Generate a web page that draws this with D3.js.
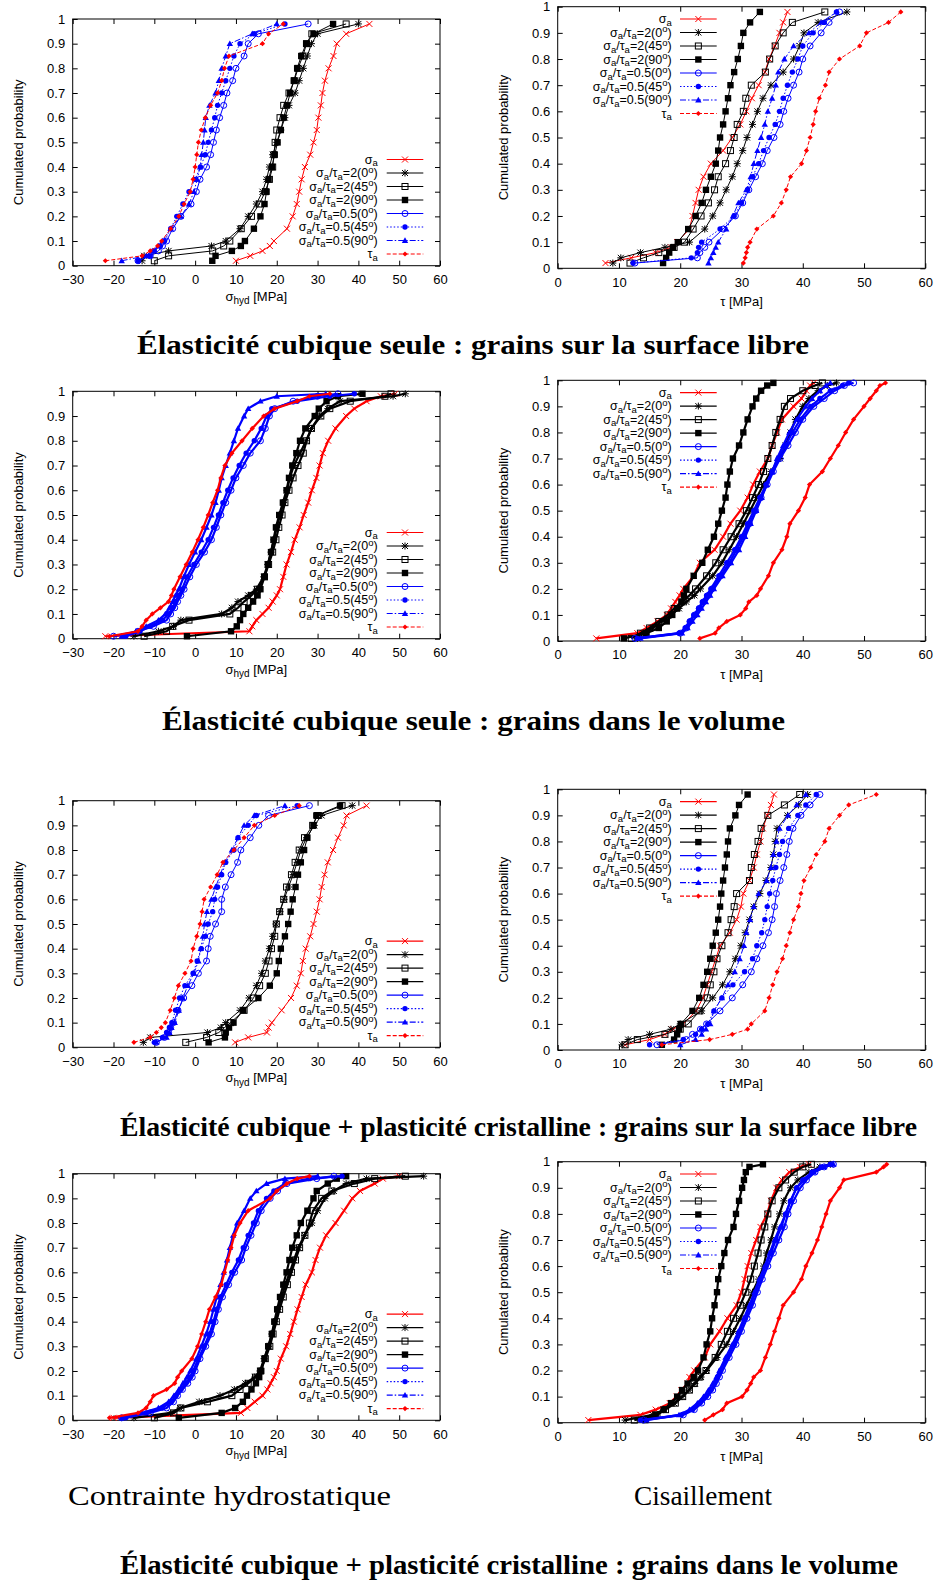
<!DOCTYPE html>
<html><head><meta charset="utf-8">
<script src="https://cdn.jsdelivr.net/npm/d3@7"></script>
<style>body{margin:0;background:#fff}</style>
</head><body>
<svg id="c" width="935" height="1591"></svg>
<script>
// ---------- DATA ----------
const probSurface = [0.02,0.04,0.06,0.08,0.1,0.15,0.2,0.25,0.3,0.35,0.4,0.45,0.5,0.55,0.6,0.65,0.7,0.75,0.8,0.85,0.9,0.94,0.98];
const probVolume = [0.01,0.03,0.05,0.075,0.1,0.125,0.15,0.175,0.2,0.25,0.3,0.35,0.4,0.45,0.5,0.55,0.6,0.65,0.7,0.75,0.8,0.85,0.9,0.93,0.96,0.98,0.99];
const xTicksHyd = [-30,-20,-10,0,10,20,30,40,50,60];
const xTicksTau = [0,10,20,30,40,50,60];
const yTicks = [0,0.1,0.2,0.3,0.4,0.5,0.6,0.7,0.8,0.9,1];
const yTickLabels = ["0","0.1","0.2","0.3","0.4","0.5","0.6","0.7","0.8","0.9","1"];
// series order: σa, σa/τa=2(0°), 2(45°), 2(90°), 0.5(0°), 0.5(45°), 0.5(90°), τa
const seriesKeys = ["sigA","r2_0","r2_45","r2_90","r05_0","r05_45","r05_90","tauA"];

// Élasticité cubique seule : surface libre — hydrostatic
const hydSurfElas = [
 [10,13.5,16.5,18.3,19.3,22.5,23.9,24.9,25.5,26.1,26.9,28.2,29,29.8,30.2,30.8,31.2,31.8,32.7,33.9,34.7,37,42.7],
 [-13,-12.5,-6.5,4,7.5,11,13,15,16.5,17.5,18.2,19,20,21,22,23,24.5,25.5,26.5,27.5,28.5,30,40],
 [-10,-6.5,4.3,7,8.5,11.3,13.8,15.7,17.2,18.2,19,19.3,19.6,20,20.8,21.7,23,24.3,25.2,26.4,27.3,28.6,37],
 [4.2,5,9,11.2,12.2,14.4,16,17,17.5,18,18.8,19.5,20.2,21,21.7,22.5,23.3,24.2,25,26,27.2,29,33.8],
 [-14,-11,-9,-8,-7,-5.5,-3.5,-1,0.3,1.2,2.8,3.8,4.5,5.2,6,7,7.8,9.2,10,12,13,15.5,27.7],
 [-14,-11,-10,-8.5,-7.5,-6,-4.5,-3,-1.5,0,1.3,2.5,3.2,4,4.8,5.5,6.5,7.5,8.5,9.5,11,14.5,22],
 [-18,-12,-10.5,-9,-8,-6,-3.5,-1.5,-0.3,0.5,1.2,1.6,2,2.3,2.6,3.5,5,5.8,6.5,7.5,8.5,14,20],
 [-22,-13,-11,-9.2,-8.2,-6,-4,-2.7,-1.2,-0.5,0,0.4,0.8,1.5,2.5,3.8,5.5,6.5,7.2,8.3,16.5,18,21.6]
];
// Élasticité cubique seule : surface libre — shear
const tauSurfElas = [
 [7.8,12,16,18.5,19.5,21.5,22,22.5,23,23.8,25,27,28.5,29.8,30.8,31.7,32.8,33.8,34.5,35.4,36.2,36.8,37.5],
 [9,10.3,13.5,17.5,21.5,24,25.3,26.5,27.5,28.5,29.3,30.2,30.9,31.8,32.6,33.5,34.8,36.8,38.5,39.5,40.2,42.5,47.2],
 [11.8,14,16.5,19,20.7,22.1,23.4,24.6,25.6,26.2,27.4,28.2,28.8,29.3,30.3,30.7,31.6,33.9,34.6,35.5,36.8,38.3,43.6],
 [17.2,17.7,18.2,18.8,19.6,21.3,22.5,23.5,24.2,25,25.8,26.2,26.5,27,27.4,27.8,28.2,28.8,29.4,29.9,30.3,31.4,33],
 [12.6,22.8,23.2,24,24.7,27,29,30.2,31.2,32.3,33.4,34.2,35.3,36.3,36.9,37.6,38.5,39.4,40,41.2,43,44.3,46],
 [12.3,21.8,22.8,23,23.5,26.5,28.8,30,31,31.8,32.8,33.6,34.5,35.5,36.2,36.8,37.5,38.3,39.2,40,41.7,43.5,45.5],
 [24.6,25,25.4,25.8,26.2,27.5,28.6,29.5,30.8,31.5,32,32.6,33.2,33.8,34.3,35,35.6,36,37,38.5,41,43,45.5],
 [30.3,30.6,30.8,31,31.4,32.5,35.2,36.5,37.3,38,39.8,40.6,41.2,41.7,42.1,42.7,43.7,44.3,46,49.3,50.4,54,56]
];
// Élasticité cubique seule : volume — hydrostatic
const hydVolElas = [
 [-22,13.3,14,15,16.5,18,19,20,20.8,21.6,22.4,23.5,24.4,25.6,26.6,27.7,28.6,29.7,30.5,31.3,32.6,34.4,37,39,42,45.5,49],
 [-15,-9,-5.3,-3.5,6.5,9,10.5,13,15,16.8,17.8,18.6,19.3,20,20.8,21.7,22.5,23.2,24.2,25.7,27.2,28.5,30.5,32.5,35.5,48.5,51.5],
 [-12.5,-7,-5.5,-1.5,8.5,10.5,12,13.8,15.3,17,18,19,19.8,20.5,21.3,22,23,24,25.2,26.5,27.3,28.5,30.8,33,38,46.5,48],
 [-2,8.8,10.2,11,11.8,13,14.2,15.3,16,17,17.8,18.6,19.2,19.8,20.6,21.5,22.4,23,23.8,24.8,25.7,27,29.3,30.3,32.2,35,41],
 [-20,-14,-10.2,-7,-6,-5,-4.3,-3.5,-2.7,-1.3,0.3,2.3,4,5.2,6.3,7.5,8.8,10,11.8,13.5,16,17.2,18.2,19.5,24,30,35],
 [-17,-13.5,-11,-8,-6.5,-5.5,-4.8,-4,-3.2,-2,-0.3,1.5,3.2,4.5,5.7,6.8,8,9.3,10.8,12.5,14.5,16.2,17.5,18.8,25,33,39],
 [-18,-14.5,-12,-9,-7.3,-6.3,-5.5,-4.8,-4,-2.8,-1.5,0,1.5,2.8,4,5,5.8,6.5,7.5,8.5,9.5,10.5,12,13,16,20,32],
 [-21,-14,-13,-12,-10.5,-8.5,-6.5,-5.8,-5.2,-3.7,-2.2,-0.7,0.7,2,3.2,4.3,5.5,6.3,7.3,9,11.5,14,16.8,19.5,25,28,33]
];
// Élasticité cubique seule : volume — shear
const tauVolElas = [
 [6.3,13,14.5,16.3,17.8,18.5,19.2,19.9,20.5,22.2,23.2,25.6,27,28.2,29.8,31,31.9,33,34.3,35,35.8,36.6,38.5,39.8,40.6,41.2,41.8],
 [13,14,15.5,17,18.5,19.8,21,22.3,23.3,25.3,26.8,28,29.2,30.3,31.4,32.5,33.6,34.8,36.3,37.2,38,38.8,40,41,42.5,44,45.5],
 [12,13.5,15,16.5,18,19,20.3,21.5,22.5,24.3,25.8,27,28.3,29.6,30.8,31.8,32.8,33.6,34.3,35,35.6,36.3,37,38,40,42,43.2],
 [10.8,14.5,16.5,17.8,18.7,19.5,20.2,20.6,21,22.2,23.6,24.5,25.5,26.2,26.8,27.4,27.7,28.1,28.6,29.6,30.3,31,31.8,32.4,33.2,34.2,35.2],
 [12.6,20,21,21.6,22.4,23.1,23.8,24.6,25.2,26.6,28,29.2,30.3,31.3,32.3,33.2,34.2,35.2,36.3,37.6,38.8,40,41.8,43.5,45.2,46.8,48.3],
 [13,19.8,20.8,21.5,22.2,23,23.6,24.3,25,26.3,27.6,28.9,30,31,32,33,34,35,36,37.2,38.3,39.6,41.3,42.8,44.5,46.5,47.5],
 [13.5,20.3,21.2,22,22.8,23.5,24.2,24.9,25.5,26.9,28.3,29.6,30.6,31.5,32.4,33.3,34.1,35,35.8,36.8,37.8,39,40.5,41.5,42.8,43.8,44.5],
 [23.2,25.7,26.3,27.6,29.8,30.7,31.2,32.5,33.1,34.4,35.2,36.6,37.4,37.9,39.3,40.4,41.1,43.2,44.5,45.8,47,48.3,50,51,52,52.6,53.5]
];
// Élasticité + plasticité : surface libre — hydrostatic
const hydSurfPlas = [
 [9.8,13,17.6,18,18.8,21.2,23.5,24.9,25.9,26.4,27.1,28.2,29,29.8,30.5,31,31.7,32.5,33.8,35,36.4,37.1,42],
 [-12.7,-11,3,6.3,7.5,11,13.2,15,16.3,17.2,18.2,19,19.8,20.8,21.8,22.9,24,25,25.9,27.3,29.2,31,38.5],
 [-2.3,2.8,5.8,7.2,8.7,12,14.3,15.8,17.2,18.1,18.7,19.5,19.9,20.7,21.7,22.4,23.6,24.5,25.5,26.8,28.8,30,36],
 [3.3,7.3,7.5,8.3,9.4,11.8,15.5,18.3,20,20.5,21,22,22.8,23.4,23.9,24.6,25.2,25.9,26.7,27.5,29,29.7,35.5],
 [-9.5,-7.5,-6.5,-6,-5.3,-4.2,-2.8,-0.8,0.8,2.8,3.2,3.7,5,6.5,6.5,7.4,8.8,10.4,11.2,13.5,15.6,18,28],
 [-10,-8,-7,-6.3,-5.7,-4.8,-3.8,-2.5,-0.5,0.5,1.5,2.5,3.2,4.3,4.8,5.5,6.5,7.5,9.5,10.5,13,15,25],
 [-9.5,-7,-6.3,-5.8,-5,-4,-3,-1.8,-0.3,0.8,1.4,1.9,2.3,2.9,4,5,6.2,7.2,9,10.5,12,14.5,22],
 [-15,-11,-9.5,-8.3,-7.3,-6.1,-5.1,-4.1,-2.5,-1,-0.5,0.4,1.2,1.7,2.2,3.8,5.4,6.8,9.5,12,14.5,19.5,25.5]
];
// Élasticité + plasticité : surface libre — shear
const tauSurfPlas = [
 [11,15,17.5,18.8,20.5,22.6,23.7,24.4,25.1,25.8,26.5,28.1,29.2,29.9,30.3,31.3,32,32.5,33.1,33.5,34.2,34.8,35.3],
 [10.5,11.5,15,18.5,20,23.5,25.3,26.9,28.1,29,29.9,30.6,31.3,32,33,34,34.8,35.2,35.5,35.8,37.5,39.3,40.8],
 [11,13,17.5,20,21.3,23.2,24.4,24.9,25.5,26,26.8,27.8,28.3,28.8,29.2,31.3,31.6,32.1,32.7,33.2,34.3,37,39.5],
 [17,19,19.5,19.8,20.1,22,23.1,23.8,24.4,24.9,25.3,25.8,26.2,26.5,26.7,27,27.3,27.6,27.8,28.1,29,29.6,31],
 [16.2,21,22,23.3,24.3,26.5,28.5,30.2,31.6,32.5,33.5,34.4,35,35.4,35.7,36.3,36.9,37.4,37.8,38.4,39.7,41.2,42.8],
 [15,20.5,22.5,23.5,24.5,25.5,26.8,28.6,30.5,31.8,32.5,33.3,33.8,34.2,34.6,35.1,35.6,36.2,36.7,37.7,39.2,40.5,42.2],
 [20,22.5,23.5,24.2,24.9,25.5,26.8,27.8,28.9,29.7,30.4,30.8,31.4,32,32.8,34.1,34.8,35.2,35.7,36.2,37.6,39,40.5],
 [17,24.8,28.5,31,31.6,33.8,34.5,35.1,35.8,36.7,37.3,37.9,38.5,39.3,39.7,40.2,41.3,42.2,43.6,44.3,46,47.5,52]
];
// Élasticité + plasticité : volume — hydrostatic
const hydVolPlas = [
 [-20,11.2,12.8,14.6,16.5,17.7,18.5,19.3,20,21,22.3,23.3,24.2,25.1,26.1,27.1,28.6,29.5,30.6,32.1,34.4,36.5,38.5,40.4,44,46,50],
 [-15,-6,-3.7,1,6.1,9.6,12.3,14.6,15.9,16.9,18,18.8,19.6,20.3,21.2,22.1,23.2,24.2,25.3,26.8,28.6,30,31.8,34,37,42,56],
 [-10,-5.2,-3.5,3,9,11,13,14.8,16,17.2,18.3,19.1,19.9,20.7,21.6,22.6,23.6,24.6,25.6,26.9,28,28.9,31,33.5,39,44,51.5],
 [-4,6.5,9.8,11.7,12.7,13.8,14.9,15.7,16.2,17,17.9,18.8,19.4,20.1,20.8,21.6,22.4,23.1,23.8,24.9,25.9,27.5,29,29.8,32.5,34.7,37],
 [-18,-11,-7,-5.3,-4.3,-3.1,-1.8,-0.7,0,1.2,2.6,4,4.9,5.7,6.7,8.2,9.7,11.4,12.4,13.7,15,16.2,18.4,20.2,22.5,29.8,34],
 [-17,-12,-8,-5.8,-4.7,-3.5,-2.3,-1.2,-0.5,0.8,2.2,3.5,4.5,5.3,6.2,7.6,9,10.6,11.8,13,14.3,15.5,17.5,19.3,22,28,36],
 [-18,-13,-9,-6.5,-5.2,-4,-3,-2,-1.2,0.3,1.5,2.7,3.7,4.5,5.3,6.2,7,7.8,8.5,9.3,10.3,12,13.5,15,17.5,22,30],
 [-21,-14,-12,-11,-10.2,-7,-5,-4.3,-3.3,-0.8,0.6,1.6,2.6,3.5,5,6.4,7.2,8,8.8,9.6,11,13,18.4,20,22.5,25,28]
];
// Élasticité + plasticité : volume — shear
const tauVolPlas = [
 [5,13.5,16,18.3,19.4,20.2,21.2,21.5,22.3,24,24.9,26.4,27.7,29.2,30,30.5,31,31.6,32.4,33.1,34.2,34.8,35.7,36.6,37.8,39.6,41],
 [11,15.5,17.3,19,20.3,21.4,22.4,23.4,24.3,26,27.6,28.7,29.8,30.8,31.8,32.8,33.6,34.1,34.8,35.4,36.2,36.9,38,39.2,41,42.8,44.5],
 [12.5,16.2,17.6,19.2,20.4,21.5,22.3,23.2,24.2,25.7,26.7,27.7,28.7,29.8,30.7,31.5,32.1,32.7,33.2,33.8,34.3,35,36.1,37.2,38.6,40,41.4],
 [14.3,16,17.3,18.5,19.5,20.3,21.2,22.2,22.9,23.8,24.3,24.9,25.2,25.6,26,26.2,26.7,27.2,27.8,28.7,29.1,29.6,30.1,30.4,30.7,31.3,33.5],
 [14,20.5,22.3,23.5,24.5,25.3,25.9,26.4,26.9,28,29.1,30,30.9,31.8,32.6,33.4,34.3,35.2,36.1,37,37.6,38.5,39.6,40.6,42,43.5,45],
 [13.5,20.2,22,23.2,24.2,25,25.6,26.1,26.6,27.7,28.8,29.7,30.6,31.5,32.3,33.1,34,34.8,35.6,36.5,37.2,38,39,40,41.5,43,44.5],
 [14.5,19.8,21.5,22.8,23.8,24.6,25.3,25.9,26.4,27.4,28.5,29.5,30.4,31.3,32.1,32.9,33.8,34.6,35.4,36.3,37.2,38,39,40.2,41.8,43.5,45],
 [24,25.4,26.9,27.6,30.1,30.9,31.5,32,33.1,33.9,34.7,35.4,36.1,36.8,38.5,39.8,40.5,41.5,42.4,43.1,43.8,44.5,46,46.7,52,53.2,53.7]
];

const legendLabels = [
 [["σ"],["a","sub"]],
 [["σ"],["a","sub"],["/τ"],["a","sub"],["=2(0"],["o","sup"],[")"]],
 [["σ"],["a","sub"],["/τ"],["a","sub"],["=2(45"],["o","sup"],[")"]],
 [["σ"],["a","sub"],["/τ"],["a","sub"],["=2(90"],["o","sup"],[")"]],
 [["σ"],["a","sub"],["/τ"],["a","sub"],["=0.5(0"],["o","sup"],[")"]],
 [["σ"],["a","sub"],["/τ"],["a","sub"],["=0.5(45"],["o","sup"],[")"]],
 [["σ"],["a","sub"],["/τ"],["a","sub"],["=0.5(90"],["o","sup"],[")"]],
 [["τ"],["a","sub"]]
];
const titles = [
 "Élasticité cubique seule : grains sur la surface libre",
 "Élasticité cubique seule : grains dans le volume",
 "Élasticité cubique + plasticité cristalline : grains sur la surface libre",
 "Élasticité cubique + plasticité cristalline : grains dans le volume"
];
const columnCaptions = ["Contrainte hydrostatique","Cisaillement"];

// ---------- STYLE / LAYOUT ----------
const styles = [
 {color:"#ff0000", dash:null, marker:"cross"},
 {color:"#000000", dash:null, marker:"star"},
 {color:"#000000", dash:null, marker:"sqOpen"},
 {color:"#000000", dash:null, marker:"sqFill"},
 {color:"#0000ff", dash:null, marker:"circOpen"},
 {color:"#0000ff", dash:"1.5,2", marker:"circFill"},
 {color:"#0000ff", dash:"6,2,1.5,2", marker:"tri"},
 {color:"#ff0000", dash:"4,2", marker:"diamond"}
];
const cols = [{left:72.7, right:440}, {left:557.7, right:925.3}];
const panels = [
 {data:hydSurfElas, probs:probSurface, kind:"hyd", col:0, top:19,    bottom:265.7, vol:false},
 {data:tauSurfElas, probs:probSurface, kind:"tau", col:1, top:6.7,   bottom:268.3, vol:false},
 {data:hydVolElas,  probs:probVolume,  kind:"hyd", col:0, top:391.3, bottom:638.7, vol:true},
 {data:tauVolElas,  probs:probVolume,  kind:"tau", col:1, top:380.3, bottom:641,   vol:true},
 {data:hydSurfPlas, probs:probSurface, kind:"hyd", col:0, top:800.7, bottom:1047.3, vol:false},
 {data:tauSurfPlas, probs:probSurface, kind:"tau", col:1, top:789.3, bottom:1050,  vol:false},
 {data:hydVolPlas,  probs:probVolume,  kind:"hyd", col:0, top:1173.7, bottom:1420.3, vol:true},
 {data:tauVolPlas,  probs:probVolume,  kind:"tau", col:1, top:1161.7, bottom:1422.7, vol:true}
];
const FONT = "'Liberation Sans', Arial, Helvetica, sans-serif";
const SERIF = "'Liberation Serif', 'DejaVu Serif', serif";
const svg = d3.select("#c");

function rich(textSel, parts, baseSize, subSize, subDy, supDy) {
  let shift = 0;
  parts.forEach(([t, type]) => {
    let target = 0, fs = baseSize;
    if (type === "sub") { target = subDy; fs = subSize; }
    else if (type === "sup") { target = supDy; fs = subSize; }
    textSel.append("tspan").attr("dy", target - shift).attr("font-size", fs).text(t);
    shift = target;
  });
}

function drawMarker(g, type, x, y, color) {
  const s = 3;
  if (type === "cross") {
    g.append("path").attr("d", `M${x-s},${y-s}L${x+s},${y+s}M${x-s},${y+s}L${x+s},${y-s}`)
      .attr("stroke", color).attr("stroke-width", 1).attr("fill", "none");
  } else if (type === "star") {
    g.append("path").attr("d", `M${x-s},${y-s}L${x+s},${y+s}M${x-s},${y+s}L${x+s},${y-s}M${x-3.5},${y}L${x+3.5},${y}M${x},${y-3.5}L${x},${y+3.5}`)
      .attr("stroke", color).attr("stroke-width", 1).attr("fill", "none");
  } else if (type === "sqOpen") {
    g.append("rect").attr("x", x-3).attr("y", y-3).attr("width", 6).attr("height", 6)
      .attr("fill", "none").attr("stroke", color).attr("stroke-width", 1);
  } else if (type === "sqFill") {
    g.append("rect").attr("x", x-3.2).attr("y", y-3.2).attr("width", 6.4).attr("height", 6.4).attr("fill", color);
  } else if (type === "circOpen") {
    g.append("circle").attr("cx", x).attr("cy", y).attr("r", 3)
      .attr("fill", "none").attr("stroke", color).attr("stroke-width", 1);
  } else if (type === "circFill") {
    g.append("circle").attr("cx", x).attr("cy", y).attr("r", 2.7).attr("fill", color);
  } else if (type === "tri") {
    g.append("path").attr("d", `M${x},${y-3.2}L${x+3.2},${y+2.4}L${x-3.2},${y+2.4}Z`).attr("fill", color);
  } else if (type === "diamond") {
    g.append("path").attr("d", `M${x},${y-2.6}L${x+2.6},${y}L${x},${y+2.6}L${x-2.6},${y}Z`).attr("fill", color);
  }
}

panels.forEach(p => {
  const c = cols[p.col];
  const xDomain = p.kind === "hyd" ? [-30, 60] : [0, 60];
  const xTicks = p.kind === "hyd" ? xTicksHyd : xTicksTau;
  const x = d3.scaleLinear().domain(xDomain).range([c.left, c.right]);
  const y = d3.scaleLinear().domain([0, 1]).range([p.bottom, p.top]);
  const g = svg.append("g");
  const w = c.right - c.left, h = p.bottom - p.top;

  const fmtY = d => yTickLabels[yTicks.indexOf(d)];
  const axL = g.append("g").attr("transform", `translate(${c.left},0)`)
    .call(d3.axisLeft(y).tickValues(yTicks).tickFormat(fmtY).tickSizeInner(-5).tickSizeOuter(0).tickPadding(7.5));
  const axR = g.append("g").attr("transform", `translate(${c.right},0)`)
    .call(d3.axisRight(y).tickValues(yTicks).tickFormat("").tickSizeInner(-5).tickSizeOuter(0));
  const axB = g.append("g").attr("transform", `translate(0,${p.bottom})`)
    .call(d3.axisBottom(x).tickValues(xTicks).tickFormat(d3.format("d")).tickSizeInner(-5).tickSizeOuter(0).tickPadding(9));
  const axT = g.append("g").attr("transform", `translate(0,${p.top})`)
    .call(d3.axisTop(x).tickValues(xTicks).tickFormat("").tickSizeInner(-5).tickSizeOuter(0));
  [axL, axR, axB, axT].forEach(a => {
    a.select(".domain").remove();
    a.selectAll("line").attr("stroke", "#000").attr("stroke-width", 1);
    a.selectAll("text").attr("font-family", FONT).attr("font-size", 13).attr("fill", "#000");
  });
  axB.selectAll("text").attr("dy", "0.71em");
  g.append("rect").attr("x", c.left).attr("y", p.top).attr("width", w).attr("height", h)
    .attr("fill", "none").attr("stroke", "#000").attr("stroke-width", 1);

  const ylx = p.col === 0 ? 18.3 : 503.3;
  g.append("text").attr("transform", `translate(${ylx},${(p.top + p.bottom) / 2}) rotate(-90)`)
    .attr("text-anchor", "middle").attr("dy", "0.35em").attr("font-family", FONT).attr("font-size", 13)
    .text("Cumulated probability");
  const xl = g.append("text").attr("x", (c.left + c.right) / 2)
    .attr("y", p.bottom + (p.kind === "hyd" ? 35 : 38))
    .attr("text-anchor", "middle").attr("font-family", FONT).attr("font-size", 13);
  if (p.kind === "hyd") rich(xl, [["σ"],["hyd","sub"],[" [MPa]"]], 13, 10, 3.5, -5);
  else rich(xl, [["τ [MPa]"]], 13, 10, 3.5, -5);

  const lw = p.vol ? 2.2 : 1;
  p.data.forEach((vals, si) => {
    const st = styles[si];
    const pts = vals.map((v, i) => [x(v), y(p.probs[i])]);
    g.append("path").attr("d", d3.line()(pts)).attr("fill", "none")
      .attr("stroke", st.color).attr("stroke-width", lw)
      .attr("stroke-dasharray", p.vol ? null : st.dash);
    const mg = g.append("g");
    pts.forEach(([px, py]) => drawMarker(mg, st.marker, px, py, st.color));
  });

  for (let i = 0; i < 8; i++) {
    let ly, sx0, sx1, tx;
    if (p.col === 0) {
      ly = p.bottom - 11.7 - 13.5 * (7 - i);
      sx0 = c.right - 53.3; sx1 = c.right - 16.7; tx = c.right - 62.3;
    } else {
      ly = p.top + 12.3 + 13.5 * i;
      sx0 = c.left + 122.3; sx1 = c.left + 159; tx = c.left + 114;
    }
    const st = styles[i];
    g.append("line").attr("x1", sx0).attr("x2", sx1).attr("y1", ly).attr("y2", ly)
      .attr("stroke", st.color).attr("stroke-width", 1.2).attr("stroke-dasharray", st.dash);
    drawMarker(g, st.marker, (sx0 + sx1) / 2, ly, st.color);
    const t = g.append("text").attr("x", tx).attr("y", ly + 4).attr("text-anchor", "end")
      .attr("font-family", FONT).attr("font-size", 12.5).attr("fill", "#000");
    rich(t, legendLabels[i], 12.5, 9.5, 2.5, -4.5);
  }
});

const titleSpecs = [
 {t: titles[0], x0: 137, x1: 809, y: 354},
 {t: titles[1], x0: 162, x1: 785, y: 730},
 {t: titles[2], x0: 120, x1: 917, y: 1136},
 {t: titles[3], x0: 120, x1: 898, y: 1574}
];
titleSpecs.forEach(s => {
  svg.append("text").attr("x", s.x0).attr("y", s.y).attr("font-family", SERIF)
    .attr("font-weight", "bold").attr("font-size", 27)
    .attr("textLength", s.x1 - s.x0).attr("lengthAdjust", "spacingAndGlyphs").text(s.t);
});
[{t: columnCaptions[0], x0: 68, x1: 391}, {t: columnCaptions[1], x0: 634, x1: 772}].forEach(s => {
  svg.append("text").attr("x", s.x0).attr("y", 1505).attr("font-family", SERIF)
    .attr("font-size", 27).attr("textLength", s.x1 - s.x0).attr("lengthAdjust", "spacingAndGlyphs").text(s.t);
});
</script>
</body></html>
